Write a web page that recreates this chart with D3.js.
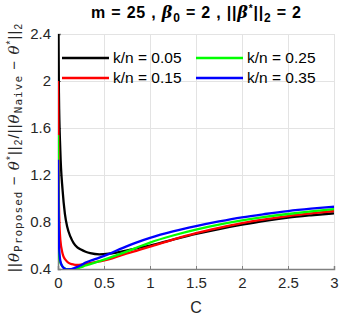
<!DOCTYPE html>
<html>
<head>
<meta charset="utf-8">
<script src="https://cdn.jsdelivr.net/npm/d3@7"></script>
<style>
  body { margin: 0; background: #fff; }
  svg { display: block; font-family: "Liberation Sans", Arial, sans-serif; }
</style>
</head>
<body>
<svg width="343" height="320"></svg>
<script>
// C values shared by all curves
var cVals = [0, 0.01, 0.025, 0.05, 0.075, 0.1, 0.135, 0.17, 0.21, 0.25, 0.3, 0.35, 0.45, 0.55, 0.7, 0.85, 1.0, 1.25, 1.5, 1.75, 2.0, 2.25, 2.5, 2.75, 3.0]

var kn05 = [3.0, 1.9, 1.41, 1.07, 0.87, 0.76, 0.675, 0.62, 0.585, 0.565, 0.547, 0.535, 0.525, 0.53, 0.55, 0.575, 0.6, 0.65, 0.698, 0.74, 0.777, 0.81, 0.837, 0.857, 0.874]
var kn15 = [2.0, 0.95, 0.65, 0.53, 0.485, 0.462, 0.445, 0.438, 0.435, 0.437, 0.443, 0.45, 0.465, 0.482, 0.52, 0.555, 0.59, 0.65, 0.705, 0.75, 0.79, 0.822, 0.85, 0.873, 0.893]
var kn25 = [1.54, 0.53, 0.455, 0.42, 0.405, 0.398, 0.395, 0.398, 0.405, 0.415, 0.43, 0.442, 0.467, 0.493, 0.535, 0.58, 0.625, 0.685, 0.735, 0.777, 0.813, 0.843, 0.868, 0.89, 0.91]
var kn35 = [1.33, 0.62, 0.47, 0.42, 0.403, 0.397, 0.398, 0.406, 0.418, 0.432, 0.455, 0.47, 0.497, 0.527, 0.578, 0.625, 0.665, 0.72, 0.765, 0.805, 0.84, 0.868, 0.893, 0.913, 0.93]

var seriesNames = ["k/n = 0.05", "k/n = 0.15", "k/n = 0.25", "k/n = 0.35"]
var seriesColors = ["#000000", "#ff0000", "#00ff00", "#0000ff"]
var seriesVals = [kn05, kn15, kn25, kn35]

var xTicks = [0, 0.5, 1, 1.5, 2, 2.5, 3]
var yTicks = [0.4, 0.8, 1.2, 1.6, 2, 2.4]

var pLeft = 58, pRight = 334, pTop = 34, pBottom = 269

var x = d3.scaleLinear().domain([0, 3]).range([pLeft, pRight])
var y = d3.scaleLinear().domain([0.4, 2.4]).range([pBottom, pTop])

var svg = d3.select("svg")

svg.append("defs").append("clipPath").attr("id", "plot")
  .append("rect").attr("x", pLeft).attr("y", pTop)
  .attr("width", pRight - pLeft).attr("height", pBottom - pTop)

// grid
var grid = svg.append("g").attr("stroke", "#e3e3e3").attr("stroke-width", 1)
grid.append("g").selectAll("line").data(xTicks).join("line")
  .attr("x1", d => Math.round(x(d)) + 0.5).attr("x2", d => Math.round(x(d)) + 0.5)
  .attr("y1", pTop).attr("y2", pBottom)
grid.append("g").selectAll("line").data(yTicks).join("line")
  .attr("y1", d => Math.round(y(d)) + 0.5).attr("y2", d => Math.round(y(d)) + 0.5)
  .attr("x1", pLeft).attr("x2", pRight)

// axes
var xAxis = svg.append("g")
  .attr("transform", `translate(0,${pBottom})`)
  .call(d3.axisBottom(x).tickValues(xTicks).tickSize(-3).tickPadding(8).tickFormat(d3.format("")))
var yAxis = svg.append("g")
  .attr("transform", `translate(${pLeft},0)`)
  .call(d3.axisLeft(y).tickValues(yTicks).tickSize(-3).tickPadding(7).tickFormat(d3.format("")))
;[xAxis, yAxis].forEach(a => {
  a.select(".domain").attr("stroke", "#808080").attr("stroke-width", 1.5)
  a.selectAll(".tick line").attr("stroke", "#808080")
  a.selectAll(".tick text").attr("fill", "#262626").style("font-size", "15px")
    .style("font-family", "'Liberation Sans', Arial, sans-serif")
})

// curves
var line = d3.line()
  .x((d, i) => x(cVals[i]))
  .y(d => y(d))
  .curve(d3.curveMonotoneX)

svg.append("g").attr("clip-path", "url(#plot)")
  .selectAll("path")
  .data(seriesVals)
  .join("path")
  .attr("d", d => line(d))
  .attr("fill", "none")
  .attr("stroke", (d, i) => seriesColors[i])
  .attr("stroke-width", 2.3)

// legend (no box, 2 columns)
var legPos = [[62, 58], [62, 78], [196, 58], [196, 78]]
var leg = svg.append("g")
leg.selectAll("line").data(seriesNames).join("line")
  .attr("x1", (d, i) => legPos[i][0]).attr("x2", (d, i) => legPos[i][0] + 47)
  .attr("y1", (d, i) => legPos[i][1]).attr("y2", (d, i) => legPos[i][1])
  .attr("stroke", (d, i) => seriesColors[i]).attr("stroke-width", 2.3)
leg.selectAll("text").data(seriesNames).join("text")
  .attr("x", (d, i) => legPos[i][0] + 51).attr("y", (d, i) => legPos[i][1])
  .attr("dy", "0.35em")
  .style("font-size", "15.5px")
  .attr("fill", "#000")
  .text(d => d)

// title
var serif = "'DejaVu Serif', serif"
var title = svg.append("text")
  .attr("x", 196).attr("y", 18)
  .attr("text-anchor", "middle")
  .attr("textLength", 210).attr("lengthAdjust", "spacing")
  .style("font-size", "16px").style("font-weight", "bold")
  .attr("fill", "#000")
title.append("tspan").text("m = 25 , ")
title.append("tspan").style("font-style", "italic").style("font-family", serif).text("β")
title.append("tspan").attr("dy", 4).style("font-size", "12px").text("0")
title.append("tspan").attr("dy", -4).text(" = 2 , ||")
title.append("tspan").style("font-style", "italic").style("font-family", serif).text("β")
title.append("tspan").attr("dy", -6).style("font-size", "10px").text("*")
title.append("tspan").attr("dy", 6).text("||")
title.append("tspan").attr("dy", 4).style("font-size", "12px").text("2")
title.append("tspan").attr("dy", -4).text(" = 2")

// x label
svg.append("text")
  .attr("x", 196).attr("y", 313)
  .attr("text-anchor", "middle")
  .style("font-size", "16px")
  .attr("fill", "#262626")
  .text("C")

// y label
var yl = svg.append("text")
  .attr("transform", "translate(19,148) rotate(-90)")
  .attr("text-anchor", "middle")
  .attr("textLength", 248).attr("lengthAdjust", "spacing")
  .style("font-size", "15px")
  .attr("fill", "#262626")
var mono = "'DejaVu Sans Mono', 'Liberation Mono', monospace"
yl.append("tspan").text("||")
yl.append("tspan").style("font-style", "italic").style("font-family", serif).text("θ")
yl.append("tspan").attr("dy", 3).style("font-family", mono).style("font-size", "11px").text("Proposed")
yl.append("tspan").attr("dy", -3).text(" − ")
yl.append("tspan").style("font-style", "italic").style("font-family", serif).text("θ")
yl.append("tspan").attr("dy", -5).style("font-size", "10px").text("*")
yl.append("tspan").attr("dy", 5).text("||")
yl.append("tspan").attr("dy", 3).style("font-size", "10px").text("2")
yl.append("tspan").attr("dy", -3).text("/||")
yl.append("tspan").style("font-style", "italic").style("font-family", serif).text("θ")
yl.append("tspan").attr("dy", 3).style("font-family", mono).style("font-size", "11px").text("Naive")
yl.append("tspan").attr("dy", -3).text(" − ")
yl.append("tspan").style("font-style", "italic").style("font-family", serif).text("θ")
yl.append("tspan").attr("dy", -5).style("font-size", "10px").text("*")
yl.append("tspan").attr("dy", 5).text("||")
yl.append("tspan").attr("dy", 3).style("font-size", "10px").text("2")
</script>
</body>
</html>
